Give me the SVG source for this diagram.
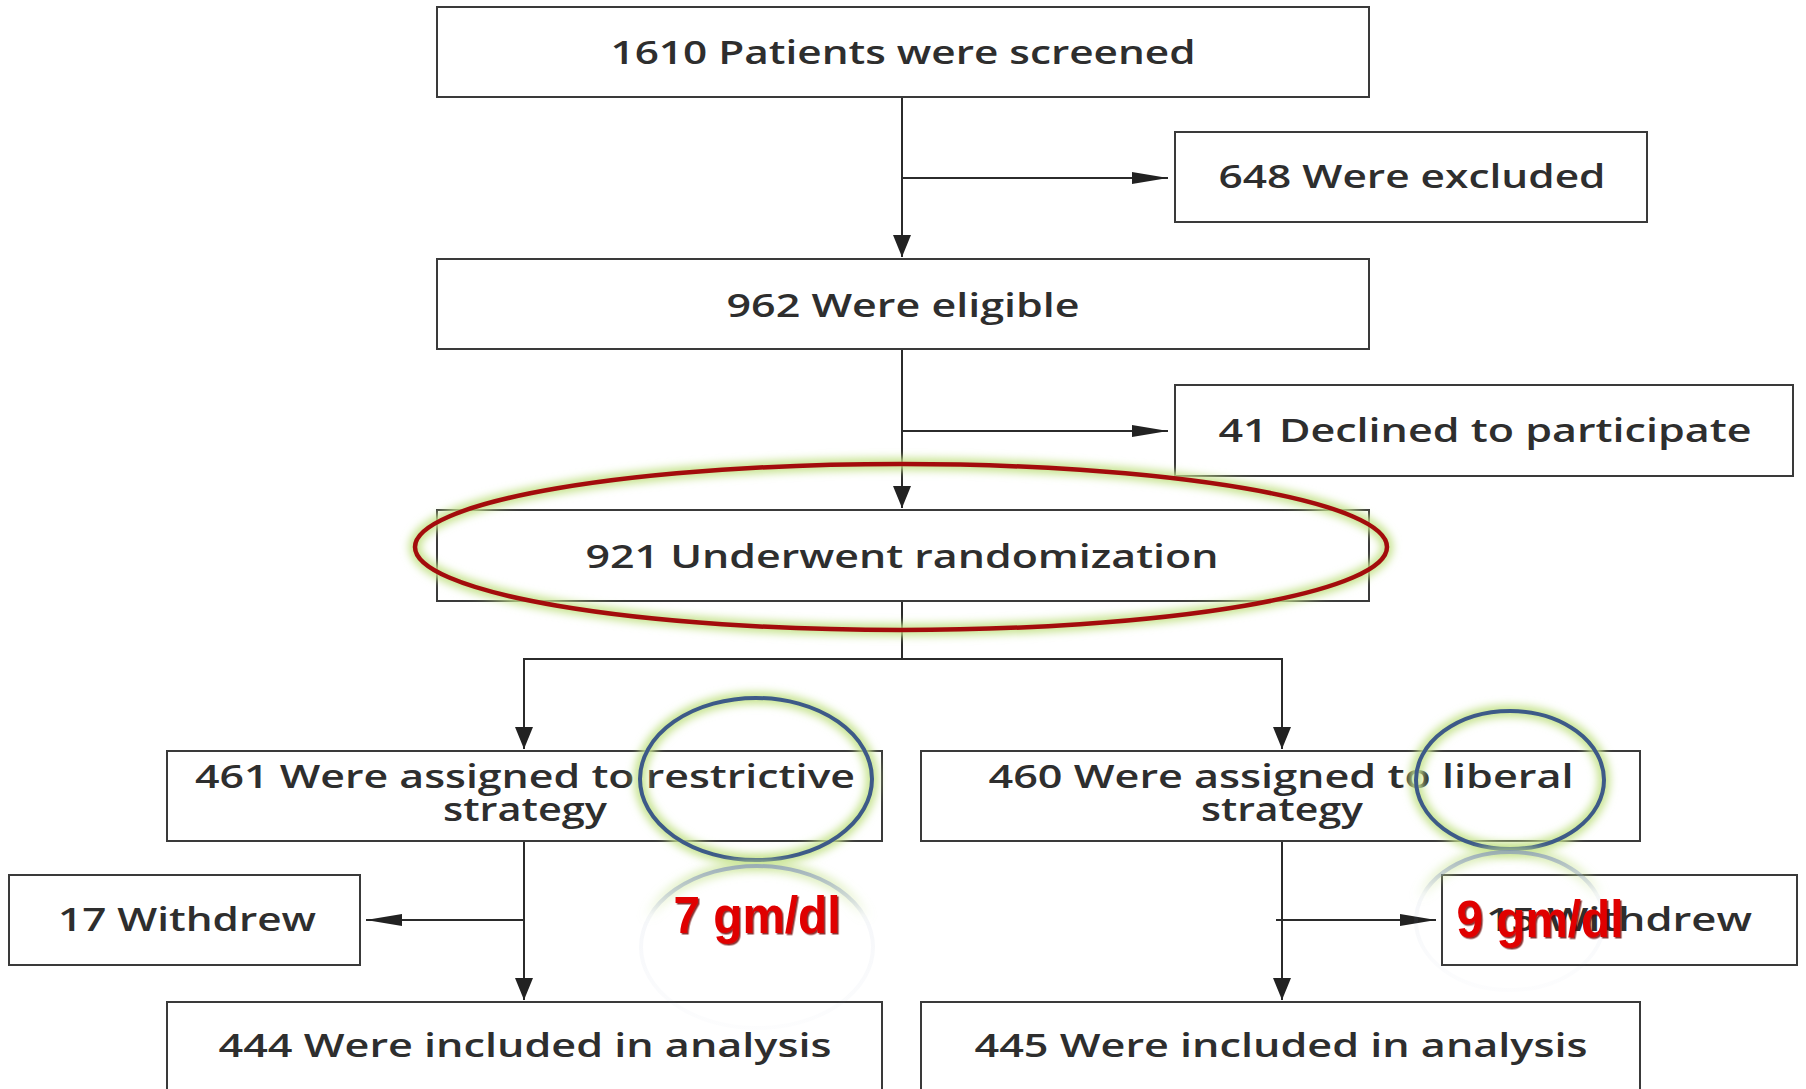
<svg xmlns="http://www.w3.org/2000/svg" width="1806" height="1089" viewBox="0 0 1806 1089">
<defs>
<style>
.box{fill:#fff;stroke:#3a3a3a;stroke-width:2}
.lbl{font-family:"Open Sans","Noto Sans",sans-serif;font-size:32px;font-weight:600;fill:#2e2e2e;text-anchor:middle}
.conn{stroke:#2b2b2b;stroke-width:2;fill:none}
.anno{font-family:"Liberation Sans",Arial,sans-serif;font-weight:bold;font-size:52px;fill:#e00000;text-anchor:middle}
.glow{fill:none;stroke:#c6e38e;stroke-width:12}
</style>
<marker id="ah" viewBox="0 0 36 12" refX="36" refY="6" markerWidth="36" markerHeight="12" markerUnits="userSpaceOnUse" orient="auto"><path d="M0,0 L36,6 L0,12 z" fill="#222"/></marker>
<marker id="av" viewBox="0 0 22 18" refX="22" refY="9" markerWidth="22" markerHeight="18" markerUnits="userSpaceOnUse" orient="auto"><path d="M0,0 L22,9 L0,18 z" fill="#222"/></marker>
<filter id="blur" x="-20%" y="-50%" width="140%" height="200%"><feGaussianBlur stdDeviation="4"/></filter>
<filter id="shadow" x="-10%" y="-20%" width="120%" height="140%"><feDropShadow dx="1.5" dy="1.5" stdDeviation="0.6" flood-color="#6a0000" flood-opacity="0.8"/></filter>
<linearGradient id="ref1" gradientUnits="userSpaceOnUse" x1="0" y1="866" x2="0" y2="1028"><stop offset="0" stop-color="#8496bb" stop-opacity="0.7"/><stop offset="0.3" stop-color="#8496bb" stop-opacity="0.08"/><stop offset="1" stop-color="#8496bb" stop-opacity="0.02"/></linearGradient>
<linearGradient id="ref2" gradientUnits="userSpaceOnUse" x1="0" y1="852" x2="0" y2="990"><stop offset="0" stop-color="#8496bb" stop-opacity="0.7"/><stop offset="0.3" stop-color="#8496bb" stop-opacity="0.08"/><stop offset="1" stop-color="#8496bb" stop-opacity="0.02"/></linearGradient>
<linearGradient id="rg1" gradientUnits="userSpaceOnUse" x1="0" y1="860" x2="0" y2="920"><stop offset="0" stop-color="#c6e38e" stop-opacity="0.8"/><stop offset="1" stop-color="#c6e38e" stop-opacity="0"/></linearGradient>
<linearGradient id="rg2" gradientUnits="userSpaceOnUse" x1="0" y1="846" x2="0" y2="900"><stop offset="0" stop-color="#c6e38e" stop-opacity="0.8"/><stop offset="1" stop-color="#c6e38e" stop-opacity="0"/></linearGradient>
</defs>
<rect width="1806" height="1089" fill="#fff"/>
<g id="connectors">
<path class="conn" d="M902,97 V257" marker-end="url(#av)"/>
<path class="conn" d="M902,178 H1168" marker-end="url(#ah)"/>
<path class="conn" d="M902,349 V508" marker-end="url(#av)"/>
<path class="conn" d="M902,431 H1168" marker-end="url(#ah)"/>
<path class="conn" d="M902,601 V659"/>
<path class="conn" d="M903,659 H524 V749" marker-end="url(#av)"/>
<path class="conn" d="M901,659 H1282 V749" marker-end="url(#av)"/>
<path class="conn" d="M524,841 V1000" marker-end="url(#av)"/>
<path class="conn" d="M524,920 H366" marker-end="url(#ah)"/>
<path class="conn" d="M1282,841 V1000" marker-end="url(#av)"/>
<path class="conn" d="M1276,920 H1436" marker-end="url(#ah)"/>
</g>
<g id="n-screened"><rect class="box" x="437" y="7" width="932" height="90"/><text class="lbl" x="903" y="64" textLength="585" lengthAdjust="spacingAndGlyphs">1610 Patients were screened</text></g>
<g id="n-excluded"><rect class="box" x="1175" y="132" width="472" height="90"/><text class="lbl" x="1412" y="188" textLength="387" lengthAdjust="spacingAndGlyphs">648 Were excluded</text></g>
<g id="n-eligible"><rect class="box" x="437" y="259" width="932" height="90"/><text class="lbl" x="903" y="317" textLength="353" lengthAdjust="spacingAndGlyphs">962 Were eligible</text></g>
<g id="n-declined"><rect class="box" x="1175" y="385" width="618" height="91"/><text class="lbl" x="1485" y="442" textLength="533" lengthAdjust="spacingAndGlyphs">41 Declined to participate</text></g>
<g id="n-randomized"><rect class="box" x="437" y="510" width="932" height="91"/><text class="lbl" x="902" y="568" textLength="633" lengthAdjust="spacingAndGlyphs">921 Underwent randomization</text></g>
<g id="n-restrictive"><rect class="box" x="167" y="751" width="715" height="90"/><text class="lbl" x="525" y="788" textLength="660" lengthAdjust="spacingAndGlyphs">461 Were assigned to restrictive</text><text class="lbl" x="525" y="821" textLength="164" lengthAdjust="spacingAndGlyphs">strategy</text></g>
<g id="n-liberal"><rect class="box" x="921" y="751" width="719" height="90"/><text class="lbl" x="1281" y="788" textLength="585" lengthAdjust="spacingAndGlyphs">460 Were assigned to liberal</text><text class="lbl" x="1282" y="821" textLength="162" lengthAdjust="spacingAndGlyphs">strategy</text></g>
<g id="n-withdrew17"><rect class="box" x="9" y="875" width="351" height="90"/><text class="lbl" x="187" y="931" textLength="258" lengthAdjust="spacingAndGlyphs">17 Withdrew</text></g>
<g id="n-withdrew15"><rect class="box" x="1442" y="875" width="355" height="90"/><text class="lbl" x="1619" y="931" textLength="266" lengthAdjust="spacingAndGlyphs">15 Withdrew</text></g>
<g id="n-analysis444"><rect class="box" x="167" y="1002" width="715" height="100"/><text class="lbl" x="525" y="1057" textLength="613" lengthAdjust="spacingAndGlyphs">444 Were included in analysis</text></g>
<g id="n-analysis445"><rect class="box" x="921" y="1002" width="719" height="100"/><text class="lbl" x="1281" y="1057" textLength="613" lengthAdjust="spacingAndGlyphs">445 Were included in analysis</text></g>
<g id="annotations">
<ellipse class="glow" cx="901" cy="547" rx="486" ry="83" filter="url(#blur)"/>
<ellipse cx="901" cy="547" rx="486" ry="83" fill="none" stroke="#a30c0c" stroke-width="4.5"/>
<ellipse class="glow" cx="756" cy="779" rx="116" ry="81" filter="url(#blur)"/>
<ellipse cx="756" cy="779" rx="116" ry="81" fill="none" stroke="#3d5a88" stroke-width="4"/>
<ellipse class="glow" cx="1510" cy="780" rx="94" ry="69" filter="url(#blur)"/>
<ellipse cx="1510" cy="780" rx="94" ry="69" fill="none" stroke="#3d5a88" stroke-width="4"/>
<ellipse cx="757" cy="947" rx="116" ry="81" fill="none" stroke="url(#rg1)" stroke-width="12" filter="url(#blur)"/>
<ellipse cx="757" cy="947" rx="116" ry="81" fill="none" stroke="url(#ref1)" stroke-width="4"/>
<ellipse cx="1510" cy="921" rx="94" ry="69" fill="none" stroke="url(#rg2)" stroke-width="12" filter="url(#blur)"/>
<ellipse cx="1510" cy="921" rx="94" ry="69" fill="none" stroke="url(#ref2)" stroke-width="4"/>
<text class="anno" x="757" y="933" textLength="167" lengthAdjust="spacingAndGlyphs" filter="url(#shadow)">7 gm/dl</text>
<text class="anno" x="1540" y="937" textLength="167" lengthAdjust="spacingAndGlyphs" filter="url(#shadow)">9 gm/dl</text>
</g>
</svg>
